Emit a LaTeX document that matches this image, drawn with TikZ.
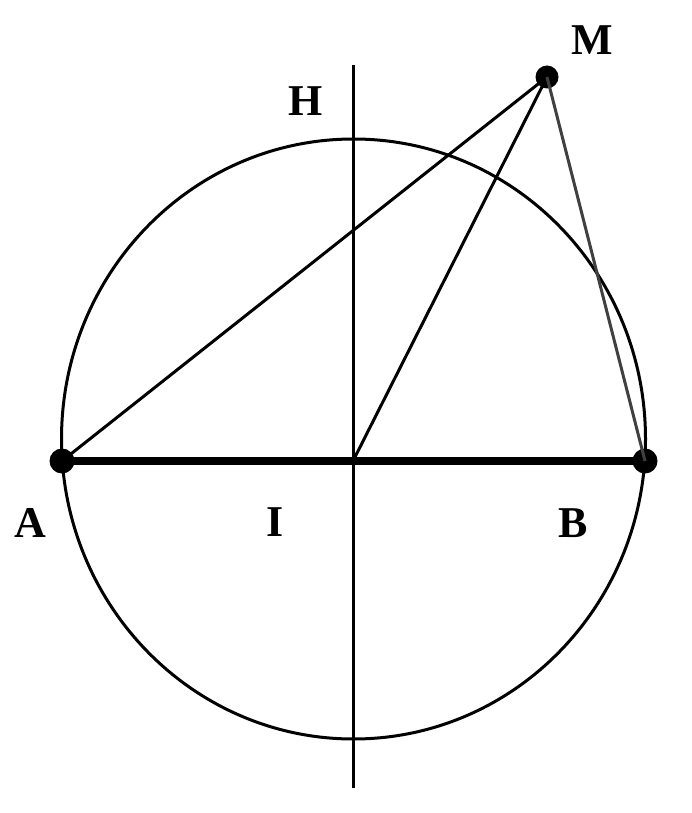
\documentclass[tikz,border=0pt]{standalone}
\usepackage{fontspec}
\setmainfont{Liberation Serif}
\usetikzlibrary{calc}
\tikzset{
  gpt/.style={circle, fill=black, draw=none, inner sep=0pt, minimum size=25pt},
  glbl/.style={font=\fontsize{44}{44}\selectfont\bfseries, inner sep=0pt},
  gline/.style={line width=3pt},
  gdiam/.style={line width=8pt},
}
\begin{document}
\begin{tikzpicture}[x=1pt,y=-1pt]
\useasboundingbox (0,0) rectangle (691,813);
% circle and the vertical axis
\draw[gline] (353.5,439) ellipse [x radius=292, y radius=300];
\coordinate (Htop) at (353,65);
\coordinate (Hbot) at (353,788);
\draw[gline] (Htop) -- (Hbot);
% points
\coordinate (I) at (353,461);
\node[gpt] (A) at (62,461) {};
\node[gpt] (B) at (645,461) {};
\node[gpt,minimum size=23pt] (M) at (547,77) {};
% segments
\draw[gdiam] (A.center) -- (B.center);
\draw[gline] (A.center) -- (M.center);
\draw[gline] (I) -- (M.center);
\draw[gline,black!75] (M.center) -- (B.center);
% labels
\node[glbl] (lM) at (592,40) {M};
\node[glbl] (lH) at (306,101) {H};
\node[glbl] (lA) at (30,523) {A};
\node[glbl] (lI) at (275,522) {I};
\node[glbl] (lB) at (573,523) {B};
\end{tikzpicture}
\end{document}
